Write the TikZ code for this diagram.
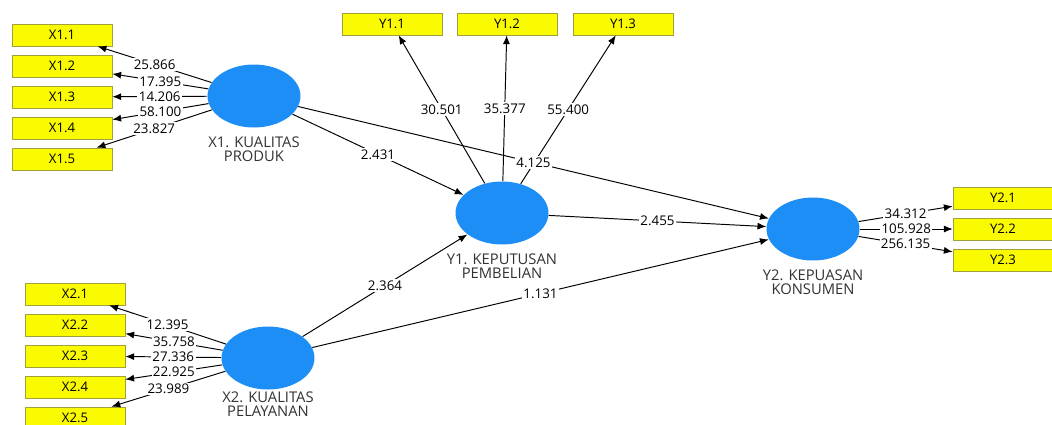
\documentclass[tikz,border=0pt]{standalone}
\usepackage{fontspec}
\setmainfont{Open Sans}
\usetikzlibrary{shapes.geometric, arrows.meta, positioning}

\definecolor{latentblue}{RGB}{28,142,246}
\definecolor{itemyellow}{RGB}{250,250,0}
\definecolor{itemborder}{RGB}{160,160,60}

\begin{document}
\begin{tikzpicture}[
    x=0.02cm, y=-0.02cm,
    % Styles for indicators, constructs and path values
    indicator/.style={draw=itemborder, fill=itemyellow, minimum width=2cm, minimum height=0.44cm, inner sep=0pt, font=\fontsize{7.5}{9}\selectfont},
    construct/.style={ellipse, fill=latentblue, minimum width=1.86cm, minimum height=1.26cm, inner sep=0pt},
    constructname/.style={font=\fontsize{8.4}{7.6}\selectfont, align=center, color=black!80, inner sep=1pt},
    pathvalue/.style={fill=white, inner sep=0.8pt, font=\fontsize{7.6}{9}\selectfont},
    loading/.style={-{Latex[length=5pt,width=4pt]}, line width=0.55pt}
]

% Picture frame
\clip (0,0) rectangle (1052,424);
\fill[white] (0,0) rectangle (1052,424);

% Constructs
\node[construct] (X1) at (254,96) {};
\node[construct] (X2) at (268,358) {};
\node[construct] (Y1) at (502,213) {};
\node[construct] (Y2) at (813,229) {};

% Construct names
\node[constructname, below=4pt of X1] (X1name) {X1. KUALITAS\\PRODUK};
\node[constructname, below=0pt of X2] (X2name) {X2. KUALITAS\\PELAYANAN};
\node[constructname, below=4pt of Y1] (Y1name) {Y1. KEPUTUSAN\\PEMBELIAN};
\node[constructname, below=4pt of Y2] (Y2name) {Y2. KEPUASAN\\KONSUMEN};

% Indicators
\foreach \i/\y in {1/35, 2/66, 3/97, 4/128, 5/159} {
    \node[indicator] (x1\i) at (62,\y) {X1.\i};
}
\foreach \i/\y in {1/294, 2/325, 3/356, 4/387, 5/418} {
    \node[indicator] (x2\i) at (75,\y) {X2.\i};
}
\foreach \i/\x in {1/392, 2/507, 3/623} {
    \node[indicator] (y1\i) at (\x,24) {Y1.\i};
}
\foreach \i/\y in {1/198, 2/229, 3/260} {
    \node[indicator] (y2\i) at (1003,\y) {Y2.\i};
}

% Outer loadings
\foreach \i/\v in {1/25.866, 2/17.395, 3/14.206, 4/58.100, 5/23.827} {
    \draw[loading] (X1) -- node[pathvalue] {\v} (x1\i);
}
\foreach \i/\v in {1/12.395, 2/35.758, 3/27.336, 4/22.925, 5/23.989} {
    \draw[loading] (X2) -- node[pathvalue] {\v} (x2\i);
}
\foreach \i/\v in {1/30.501, 2/35.377, 3/55.400} {
    \draw[loading] (Y1) -- node[pathvalue] {\v} (y1\i);
}
\foreach \i/\v in {1/34.312, 2/105.928, 3/256.135} {
    \draw[loading] (Y2) -- node[pathvalue] {\v} (y2\i);
}

% Inner model paths
\draw[loading] (X1) -- node[pathvalue] {2.431} (Y1);
\draw[loading] (X1) -- node[pathvalue] {4.125} (Y2);
\draw[loading] (X2) -- node[pathvalue] {2.364} (Y1);
\draw[loading] (X2) -- node[pathvalue] {1.131} (Y2);
\draw[loading] (Y1) -- node[pathvalue] {2.455} (Y2);

\end{tikzpicture}
\end{document}
